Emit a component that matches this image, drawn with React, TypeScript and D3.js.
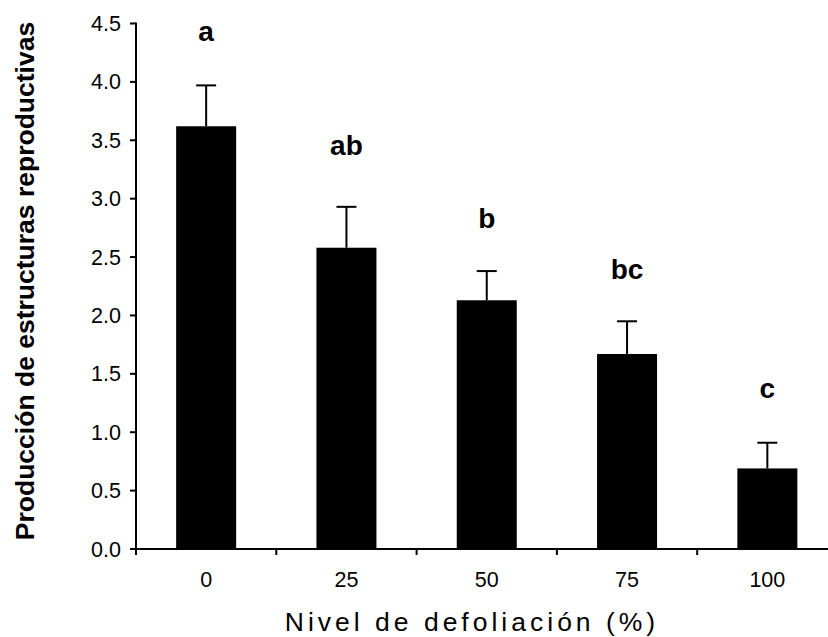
import React from "react";
import * as d3 from "d3";

const categories = ["0", "25", "50", "75", "100"];
const means = [3.62, 2.58, 2.13, 1.67, 0.69];
const errors = [0.35, 0.35, 0.25, 0.28, 0.22];
const letters = ["a", "ab", "b", "bc", "c"];
const letterPos = [4.35, 3.37, 2.75, 2.31, 1.29];
const yTicks = [0, 0.5, 1, 1.5, 2, 2.5, 3, 3.5, 4, 4.5];

const W = 828;
const H = 637;
const x0 = 136;
const x1 = 837.5;
const yTop = 23.5;
const yBot = 549;

export default function App() {
  const x = d3.scaleBand<string>().domain(categories).range([x0, x1]);
  const y = d3.scaleLinear().domain([0, 4.5]).range([yBot, yTop]);
  const barW = 60;
  const boundaries = categories.map((c) => x(c) as number);
  const font = "'Liberation Sans', Arial, sans-serif";

  return (
    <div>
      <style>{"body{margin:0}"}</style>
      <svg width={W} height={H} style={{ display: "block", background: "#fff" }} fontFamily={font}>
        {categories.map((c, i) => {
          const cx = (x(c) as number) + x.bandwidth() / 2;
          return (
            <g key={c}>
              <line x1={cx} x2={cx} y1={y(means[i])} y2={y(means[i] + errors[i])} stroke="#000" strokeWidth={2} />
              <line x1={cx - 10} x2={cx + 10} y1={y(means[i] + errors[i])} y2={y(means[i] + errors[i])} stroke="#000" strokeWidth={2} />
              <rect x={cx - barW / 2} y={y(means[i])} width={barW} height={yBot - y(means[i])} fill="#000" />
              <text x={cx} y={y(letterPos[i])} textAnchor="middle" fontWeight="bold" fontSize={28} fill="#000">
                {letters[i]}
              </text>
              <text x={cx} y={587} textAnchor="middle" fontSize={21.5} fill="#000">
                {c}
              </text>
            </g>
          );
        })}
        {/* y axis */}
        <line x1={x0} x2={x0} y1={yTop - 1} y2={yBot} stroke="#000" strokeWidth={2} />
        {yTicks.map((t) => (
          <g key={t}>
            <line x1={x0 - 6} x2={x0} y1={y(t)} y2={y(t)} stroke="#000" strokeWidth={2} />
            <text x={121} y={y(t) + 7.5} textAnchor="end" fontSize={21.5} fill="#000">
              {t.toFixed(1)}
            </text>
          </g>
        ))}
        {/* x axis */}
        <line x1={x0 - 6} x2={x1} y1={yBot} y2={yBot} stroke="#000" strokeWidth={2} />
        {boundaries.map((b, i) => (
          <line key={i} x1={b} x2={b} y1={yBot} y2={yBot + 6} stroke="#000" strokeWidth={2} />
        ))}
        <text x={472} y={631} textAnchor="middle" fontSize={26.5} letterSpacing={4} fill="#000">
          Nivel de defoliación (%)
        </text>
        <text
          transform={`translate(34,281) rotate(-90)`}
          textAnchor="middle"
          fontWeight="bold"
          fontSize={26.5}
          fill="#000"
        >
          Producción de estructuras reproductivas
        </text>
      </svg>
    </div>
  );
}
